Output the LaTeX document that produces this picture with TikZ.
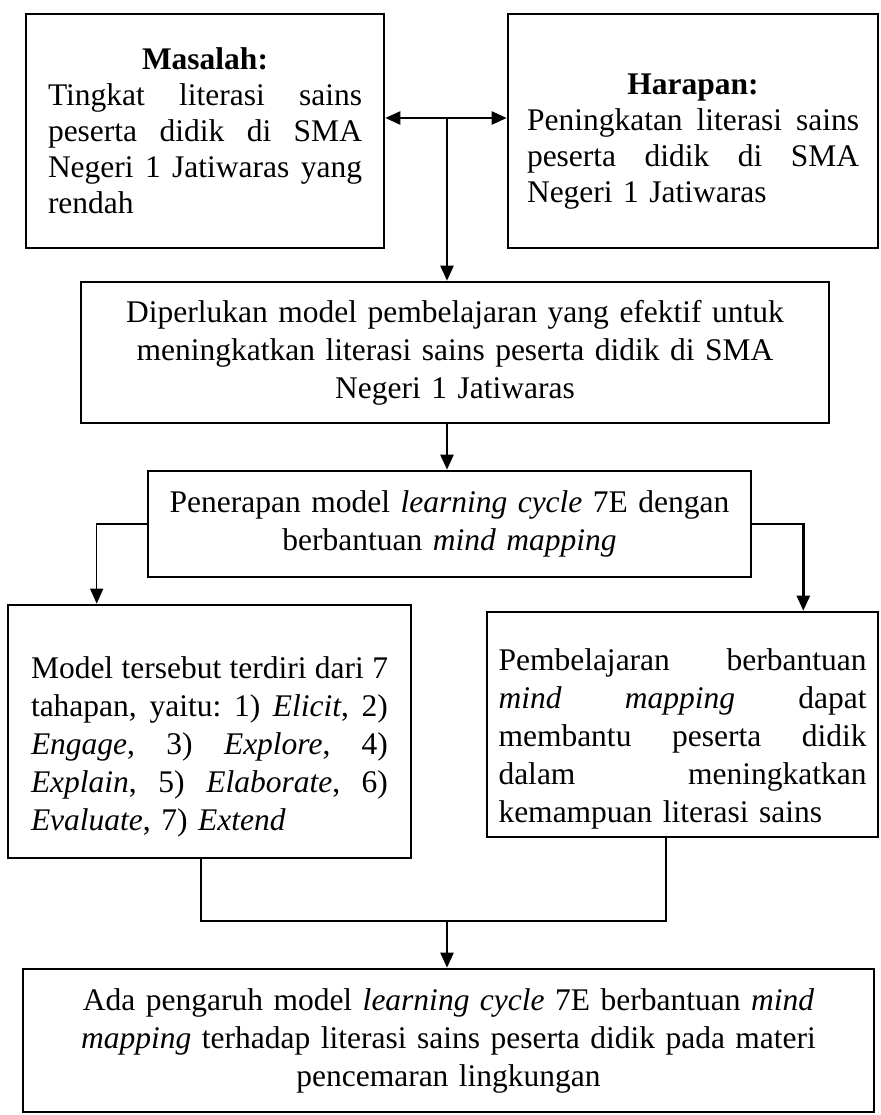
\documentclass[tikz,border=0pt]{standalone}
\usepackage{fontspec}
\setmainfont{Liberation Serif}
\usetikzlibrary{positioning, arrows.meta}
\hyphenpenalty=10000
\newcommand{\jrow}[1]{%
  \makebox[\linewidth][s]{\frenchspacing\spaceskip=0.25em plus 1fil\relax #1}\\}
\newcommand{\boxhead}[1]{\makebox[\linewidth]{\textbf{#1}}\\}
\tikzset{
  kotak/.style={
    rectangle, draw, line width=2.6pt, inner sep=0pt,
    font=\fontsize{31.5pt}{38pt}\selectfont
  },
  rata/.style={kotak, align=left},
  tengah/.style={kotak, align=center},
  rapat/.style={font=\fontsize{31.5pt}{36pt}\selectfont},
  garis/.style={line width=2.4pt},
  arr/.style={-{Triangle[length=15pt, width=13pt]}, line width=2.4pt},
  darr/.style={{Triangle[length=15pt, width=13pt]}-{Triangle[length=15pt, width=13pt]}, line width=2.4pt},
}

\begin{document}
\begin{tikzpicture}[x=1pt, y=-1pt]

  \useasboundingbox (0,0) rectangle (880,1115);

  %% ── Masalah & harapan ──────────────────────────────────────────────────────

  \node[rata, rapat, minimum width=358pt, minimum height=234pt, text width=314pt]
    (masalah) at (205,131) {%
    \boxhead{Masalah:}
    \jrow{Tingkat literasi sains}
    \jrow{peserta didik di SMA}
    \jrow{Negeri 1 Jatiwaras yang}
    rendah};

  \node[rata, rapat, minimum width=370pt, minimum height=234pt, text width=332pt]
    (harapan) at (693,131) {%
    \vspace*{6pt}
    \boxhead{Harapan:}
    \jrow{Peningkatan literasi sains}
    \jrow{peserta didik di SMA}
    Negeri 1 Jatiwaras};

  \coordinate (cabang) at (447,118);
  \draw[darr] (masalah.east |- cabang) -- (harapan.west |- cabang);

  %% ── Kebutuhan & penerapan ──────────────────────────────────────────────────

  \node[tengah, minimum width=748pt, minimum height=141pt, text width=720pt]
    (kebutuhan) at (455,352.5)
    {Diperlukan model pembelajaran yang efektif untuk\\
     meningkatkan literasi sains peserta didik di SMA\\
     Negeri 1 Jatiwaras};
  \draw[arr] (cabang) -- (cabang |- kebutuhan.north);

  \node[tengah, minimum width=603pt, minimum height=106pt, text width=580pt]
    (penerapan) at (449.5,524)
    {Penerapan model \textit{learning cycle} 7E dengan\\
     berbantuan \textit{mind mapping}};
  \draw[arr] (cabang |- kebutuhan.south) -- (cabang |- penerapan.north);

  %% ── Tahapan & mind mapping ─────────────────────────────────────────────────

  \node[rata, minimum width=403pt, minimum height=253pt, text width=357pt]
    (tahapan) at (209.5,731.5) {%
    \vspace*{14pt}
    \jrow{Model tersebut terdiri dari 7}
    \jrow{tahapan, yaitu: 1) \textit{Elicit}, 2)}
    \jrow{\textit{Engage}, 3) \textit{Explore}, 4)}
    \jrow{\textit{Explain}, 5) \textit{Elaborate}, 6)}
    \textit{Evaluate}, 7) \textit{Extend}};

  \node[rata, minimum width=391pt, minimum height=225pt, text width=368pt]
    (pembelajaran) at (682.5,724.5) {%
    \vspace*{12pt}
    \jrow{Pembelajaran berbantuan}
    \jrow{\textit{mind mapping} dapat}
    \jrow{membantu peserta didik}
    \jrow{dalam meningkatkan}
    kemampuan literasi sains};

  \draw[arr, line width=1.3pt]
    (penerapan.west) -| ([xshift=90pt]tahapan.north west);
  \draw[arr]
    (penerapan.east) -| ([xshift=-76pt]pembelajaran.north east);

  %% ── Pengaruh ───────────────────────────────────────────────────────────────

  \node[tengah, minimum width=851pt, minimum height=143pt, text width=820pt]
    (pengaruh) at (448.5,1040.5)
    {Ada pengaruh model \textit{learning cycle} 7E berbantuan \textit{mind}\\
     \textit{mapping} terhadap literasi sains peserta didik pada materi\\
     pencemaran lingkungan};

  \coordinate (gabung) at (447,921);
  \draw[garis] ([xshift=194pt]tahapan.south west) |- (gabung)
    -| ([xshift=180pt]pembelajaran.south west);
  \draw[arr] (gabung) -- (gabung |- pengaruh.north);

\end{tikzpicture}
\end{document}
